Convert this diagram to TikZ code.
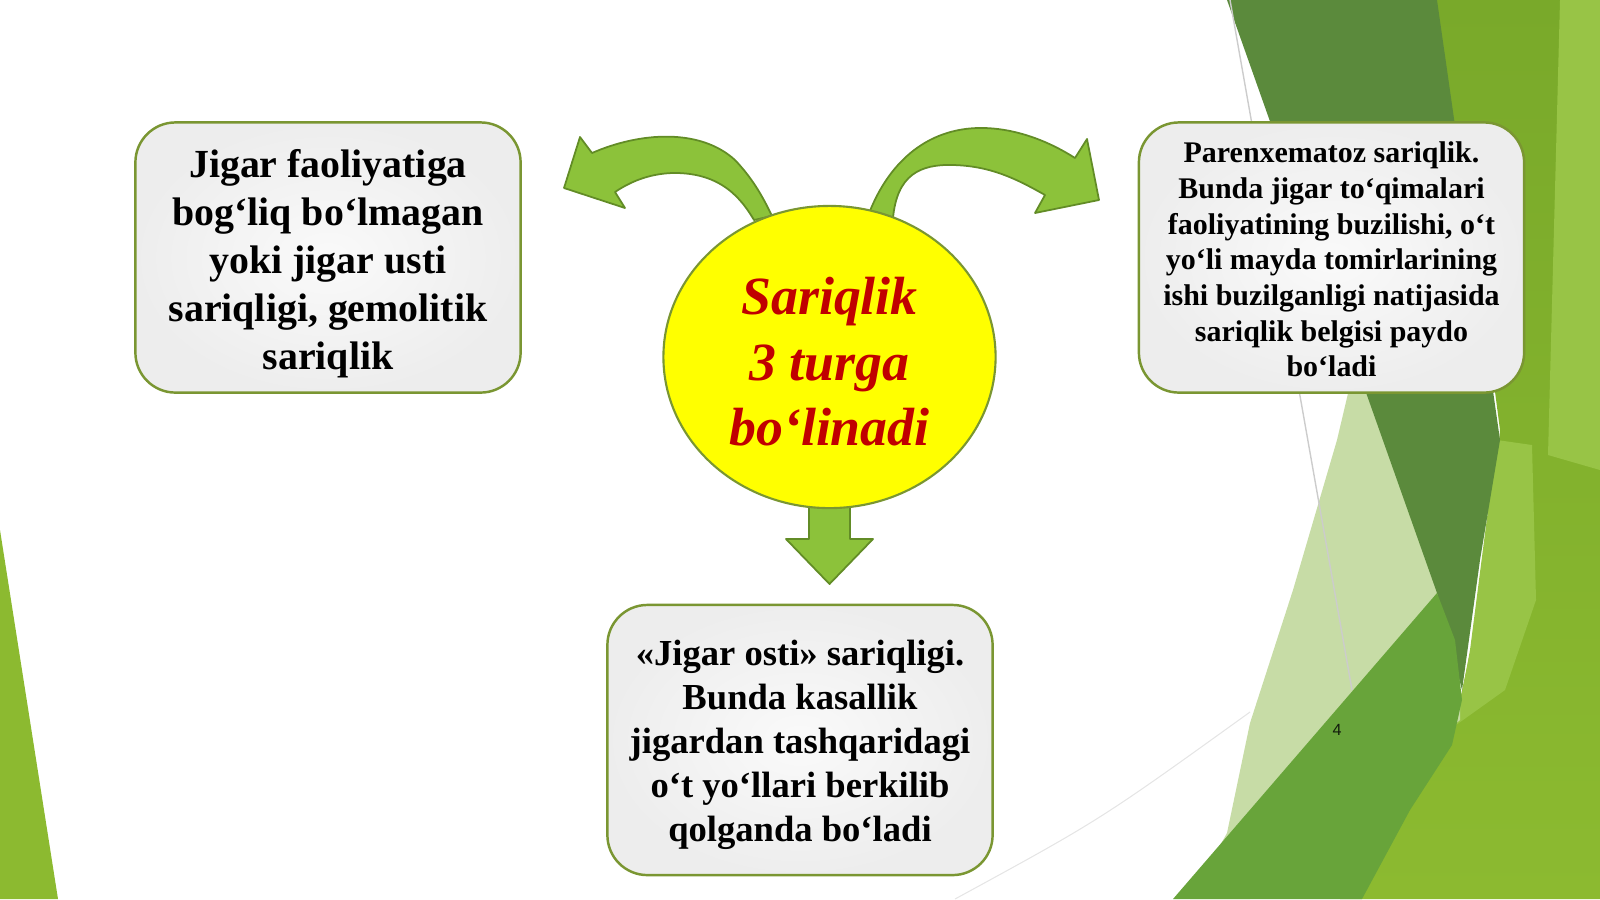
\documentclass[tikz,border=0pt]{standalone}
\usepackage{fontspec}
\setmainfont{Liberation Serif}
\newfontfamily\pagefont{Liberation Sans}
\usetikzlibrary{shapes.geometric}
\definecolor{boxline}{RGB}{122,150,50}
\definecolor{arrowfill}{RGB}{140,194,58}
\definecolor{arrowline}{RGB}{98,140,38}
\definecolor{sunyellow}{RGB}{255,255,0}
\definecolor{titlered}{RGB}{192,0,0}
\definecolor{leafdark}{RGB}{91,138,60}
\definecolor{leafmid}{RGB}{104,164,58}
\definecolor{leafpale}{RGB}{199,220,166}
\definecolor{leafolive}{RGB}{121,169,42}
\definecolor{leafyellow}{RGB}{140,186,48}
\definecolor{leaflight}{RGB}{152,196,70}
\begin{document}
\begin{tikzpicture}[x=0.01cm,y=-0.01cm,
  infobox/.style={draw=boxline,line width=0.7pt,rounded corners=0.4cm,
    inner color=white!96!gray,outer color=gray!14,
    minimum width=3.85cm,minimum height=2.7cm,inner sep=0pt,align=center},
  blockarrow/.style={fill=arrowfill,draw=arrowline,line width=0.5pt,line join=round}]
  \useasboundingbox (0,0) rectangle (1600,899);
  % background
  %right facets
  \shade[top color=leafolive,bottom color=leafyellow] (1420,0) -- (1600,0) -- (1600,899) -- (1340,899)
    -- (1420,790) -- (1460,700) -- (1490,560) -- (1500,430) -- (1470,200) -- cycle;
  \fill[leaflight] (1560,0) -- (1600,0) -- (1600,470) -- (1548,455) -- cycle;
  \fill[leaflight] (1497,440) -- (1532,445) -- (1536,600) -- (1505,690) -- (1456,725) -- (1470,650) -- cycle;
  \fill[leafpale] (1370,300) -- (1460,300) -- (1460,720) -- (1250,899) -- (1190,899) -- (1227,833)
    -- (1250,723) -- (1293,590) -- (1337,440) -- cycle;
  \fill[leafdark] (1227,0) -- (1437,0) -- (1500,440) -- (1480,560) -- (1462,690) -- (1437,593) -- cycle;
  \fill[leafmid] (1173,899) -- (1437,593) -- (1455,640) -- (1462,700) -- (1452,745) -- (1410,810) -- (1362,899) -- cycle;
  \draw[gray!40,line width=0.4pt] (1230,0) -- (1352,690);
  \draw[gray!20,line width=0.3pt] (955,899) .. controls (1100,820) .. (1250,712);
  %left facet
  \fill[leafyellow] (0,530) -- (58,899) -- (0,899) -- cycle;
  %page number
  \node[at={(1337,730)},text=black!80!leafdark,font=\pagefont\fontsize{4.6}{5}\selectfont] (pagenum) {4};

  % arrows
  \draw[blockarrow] (592,153) .. controls (640,132) and (700,128) .. (735,160)
    .. controls (752,178) and (762,195) .. (772,216) -- (754,220)
    .. controls (742,200) and (722,172) .. (672,173)
    .. controls (648,174) and (630,182) .. (615,192) -- (625,208) -- (564,188) -- (580,137) -- cycle;
  \draw[blockarrow] (868,216) .. controls (885,170) and (920,130) .. (977,128)
    .. controls (1015,127) and (1050,142) .. (1075,158) -- (1087,139) -- (1099,200) -- (1035,213)
    -- (1045,195) .. controls (1015,178) and (990,166) .. (953,165)
    .. controls (920,164) and (897,175) .. (893,218) -- cycle;
  \draw[blockarrow] (809,500) -- (850,500) -- (850,539) -- (873,539) -- (829.5,584) -- (786,539) -- (809,539) -- cycle;

  % centre
  \node[ellipse,draw=boxline,line width=0.6pt,fill=sunyellow,minimum width=3.32cm,minimum height=3.02cm,
    inner sep=0pt,at={(829.5,357)}] (circ) {};
  \node[at={(829.5,362)},align=center,text=titlered,font=\bfseries\itshape\fontsize{15.3}{18.6}\selectfont]
    (circtxt) {Sariqlik\\3 turga\\bo‘linadi};

  % boxes
  \node[infobox,at={(328,257.5)},font=\bfseries\fontsize{11.33}{13.67}\selectfont] (left)
    {\rule{0pt}{1em}Jigar faoliyatiga\\bog‘liq bo‘lmagan\\yoki jigar usti\\sariqligi, gemolitik\\sariqlik};
  \node[infobox,at={(1331.5,257.5)},font=\bfseries\fontsize{8.52}{10.16}\selectfont] (right)
    {\rule{0pt}{0.83em}Parenxematoz sariqlik.\\Bunda jigar to‘qimalari\\faoliyatining buzilishi, o‘t\\yo‘li mayda tomirlarining\\ishi buzilganligi natijasida\\sariqlik belgisi paydo\\bo‘ladi};
  \node[infobox,at={(800,740)},font=\bfseries\fontsize{10.41}{12.45}\selectfont] (bottom)
    {\rule{0pt}{0.96em}«Jigar osti» sariqligi.\\Bunda kasallik\\jigardan tashqaridagi\\o‘t yo‘llari berkilib\\qolganda bo‘ladi};
\end{tikzpicture}
\end{document}
